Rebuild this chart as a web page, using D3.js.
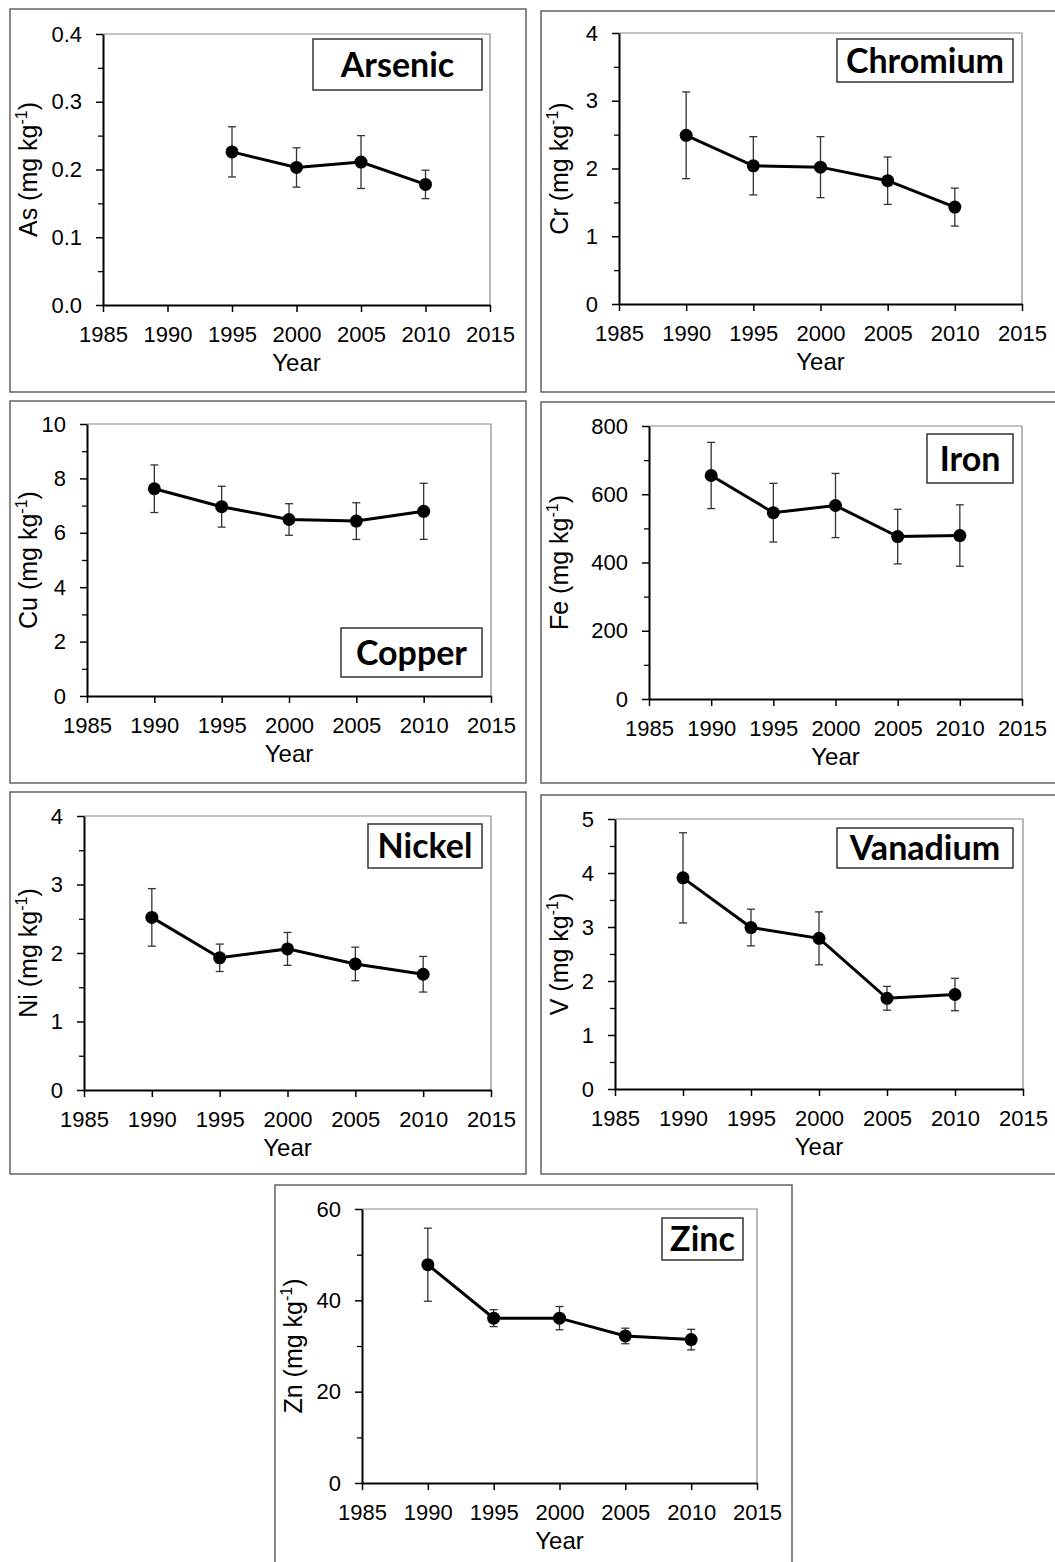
<!DOCTYPE html>
<html><head><meta charset="utf-8">
<script src="https://cdn.jsdelivr.net/npm/d3@7/dist/d3.min.js"></script>
<style>body{margin:0;background:#fff}svg{display:block}</style>
</head><body>
<svg id="chart" width="1055" height="1562"></svg>
<script>
// ---- data ----
const yearTicks = [1985, 1990, 1995, 2000, 2005, 2010, 2015];
const years = [1990, 1995, 2000, 2005, 2010];
const arsenicYears = [1995, 2000, 2005, 2010];
const arsenicMean = [0.226, 0.203, 0.211, 0.178];
const arsenicErr = [0.037, 0.029, 0.039, 0.021];
const chromiumMean = [2.49, 2.04, 2.02, 1.82, 1.43];
const chromiumErr = [0.64, 0.43, 0.45, 0.35, 0.28];
const copperMean = [7.62, 6.96, 6.49, 6.43, 6.79];
const copperErr = [0.875, 0.75, 0.58, 0.675, 1.03];
const ironMean = [655, 546, 567, 476, 479];
const ironErr = [97, 86, 94, 80, 90];
const nickelMean = [2.52, 1.93, 2.06, 1.84, 1.69];
const nickelErr = [0.42, 0.20, 0.24, 0.245, 0.26];
const vanadiumMean = [3.91, 2.99, 2.79, 1.68, 1.75];
const vanadiumErr = [0.835, 0.34, 0.49, 0.22, 0.30];
const zincMean = [47.8, 36.1, 36.1, 32.2, 31.4];
const zincErr = [8.0, 1.85, 2.55, 1.7, 2.25];

const elementNames = ["Arsenic", "Chromium", "Copper", "Iron", "Nickel", "Vanadium", "Zinc"];
const elementSymbols = ["As", "Cr", "Cu", "Fe", "Ni", "V", "Zn"];
const yMaxima = [0.4, 4, 10, 800, 4, 5, 60];
const yMajorSteps = [0.1, 1, 2, 200, 1, 1, 20];
const yTickFormats = [".1f", "d", "d", "d", "d", "d", "d"];

// ---- layout (pixel geometry) ----
const layout = [
  {box:[10,9,516,383],   plot:[103,34,490,305],   title:[313,39,169,51]},
  {box:[541,11,540,381], plot:[619,33,1022,304],  title:[837,39,176,43]},
  {box:[10,401,516,382], plot:[87,424,491,696],   title:[341,628,141,49]},
  {box:[541,402,540,381],plot:[649,426,1022,699], title:[927,434,86,49]},
  {box:[10,792,516,382], plot:[84,816,491,1090],  title:[368,824,114,44]},
  {box:[541,795,540,379],plot:[615,819,1023,1089],title:[837,828,176,40]},
  {box:[275,1185,517,400],plot:[362,1209,757,1483],title:[662,1218,81,42]}
];

const seriesData = [
  {years: arsenicYears, mean: arsenicMean, err: arsenicErr},
  {years: years, mean: chromiumMean, err: chromiumErr},
  {years: years, mean: copperMean, err: copperErr},
  {years: years, mean: ironMean, err: ironErr},
  {years: years, mean: nickelMean, err: nickelErr},
  {years: years, mean: vanadiumMean, err: vanadiumErr},
  {years: years, mean: zincMean, err: zincErr}
];

const svg = d3.select("#chart");
const FONT = "'Liberation Sans', Arial, sans-serif";

elementNames.forEach((name, i) => {
  const L = layout[i];
  const S = seriesData[i];
  const g = svg.append("g");
  const [px0, py0, px1, py1] = L.plot;

  g.append("rect").attr("x", L.box[0]).attr("y", L.box[1])
    .attr("width", L.box[2]).attr("height", L.box[3])
    .attr("fill", "none").attr("stroke", "#4a4a4a").attr("stroke-width", 1.3);

  const x = d3.scaleLinear().domain([1985, 2015]).range([px0, px1]);
  const y = d3.scaleLinear().domain([0, yMaxima[i]]).range([py1, py0]);

  g.append("path").attr("d", `M${px0},${py0}H${px1}V${py1}`)
    .attr("fill", "none").attr("stroke", "#8a8a8a").attr("stroke-width", 1.2);

  const step = yMajorSteps[i];
  const nMaj = Math.round(yMaxima[i] / step);
  const majors = d3.range(nMaj + 1).map(k => +(k * step).toFixed(6));
  const minors = d3.range(nMaj).map(k => +((k + 0.5) * step).toFixed(6));

  const gMin = g.append("g").attr("transform", `translate(${px0},0)`)
    .call(d3.axisLeft(y).tickValues(minors).tickSize(5).tickFormat(""));
  gMin.select(".domain").remove();
  gMin.selectAll("line").attr("stroke", "#000").attr("stroke-width", 1.3);

  const fmt = d3.format(yTickFormats[i]);
  const gy = g.append("g").attr("transform", `translate(${px0},0)`)
    .call(d3.axisLeft(y).tickValues(majors).tickSize(7).tickSizeOuter(0).tickPadding(14).tickFormat(fmt));
  gy.select(".domain").attr("stroke", "#000").attr("stroke-width", 2);
  gy.selectAll("line").attr("stroke", "#000").attr("stroke-width", 1.5);
  gy.selectAll("text").attr("font-family", FONT).attr("font-size", 22).attr("fill", "#000");

  const gx = g.append("g").attr("transform", `translate(0,${py1})`)
    .call(d3.axisBottom(x).tickValues(yearTicks).tickSize(7).tickSizeOuter(0).tickPadding(14).tickFormat(d3.format("d")));
  gx.select(".domain").attr("stroke", "#000").attr("stroke-width", 2);
  gx.selectAll("line").attr("stroke", "#000").attr("stroke-width", 1.5);
  gx.selectAll("text").attr("font-family", FONT).attr("font-size", 22).attr("fill", "#000");

  g.append("text").attr("x", (px0 + px1) / 2).attr("y", py1 + 66)
    .attr("text-anchor", "middle").attr("font-family", FONT).attr("font-size", 24)
    .text("Year");

  const lx = L.box[0] + 27, ly = (py0 + py1) / 2;
  const yl = g.append("text").attr("transform", `translate(${lx},${ly}) rotate(-90)`)
    .attr("text-anchor", "middle").attr("font-family", FONT).attr("font-size", 25);
  yl.append("tspan").text(elementSymbols[i] + " (mg kg");
  yl.append("tspan").attr("font-size", 16).attr("dy", -10).text("-1");
  yl.append("tspan").attr("dy", 10).text(")");

  const pts = S.years.map((yr, k) => ({yr, m: S.mean[k], e: S.err[k]}));

  const eb = g.append("g").attr("stroke", "#333").attr("stroke-width", 1.3);
  pts.forEach(p => {
    const cx = x(p.yr), t = y(p.m + p.e), b = y(p.m - p.e);
    eb.append("line").attr("x1", cx).attr("x2", cx).attr("y1", t).attr("y2", b);
    eb.append("line").attr("x1", cx - 4).attr("x2", cx + 4).attr("y1", t).attr("y2", t);
    eb.append("line").attr("x1", cx - 4).attr("x2", cx + 4).attr("y1", b).attr("y2", b);
  });

  g.append("path").datum(pts)
    .attr("d", d3.line().x(p => x(p.yr)).y(p => y(p.m)))
    .attr("fill", "none").attr("stroke", "#000").attr("stroke-width", 3);

  g.selectAll("circle.pt").data(pts).enter().append("circle")
    .attr("cx", p => x(p.yr)).attr("cy", p => y(p.m)).attr("r", 6.5).attr("fill", "#000");

  const [tx, ty, tw, th] = L.title;
  g.append("rect").attr("x", tx).attr("y", ty).attr("width", tw).attr("height", th)
    .attr("fill", "#fff").attr("stroke", "#333").attr("stroke-width", 1.5);
  g.append("text").attr("x", tx + tw / 2).attr("y", ty + th / 2 + 12)
    .attr("text-anchor", "middle").attr("font-family", "Lato, 'Open Sans', sans-serif")
    .attr("font-weight", 700).attr("font-size", 34).text(name);
});
</script>
</body></html>
